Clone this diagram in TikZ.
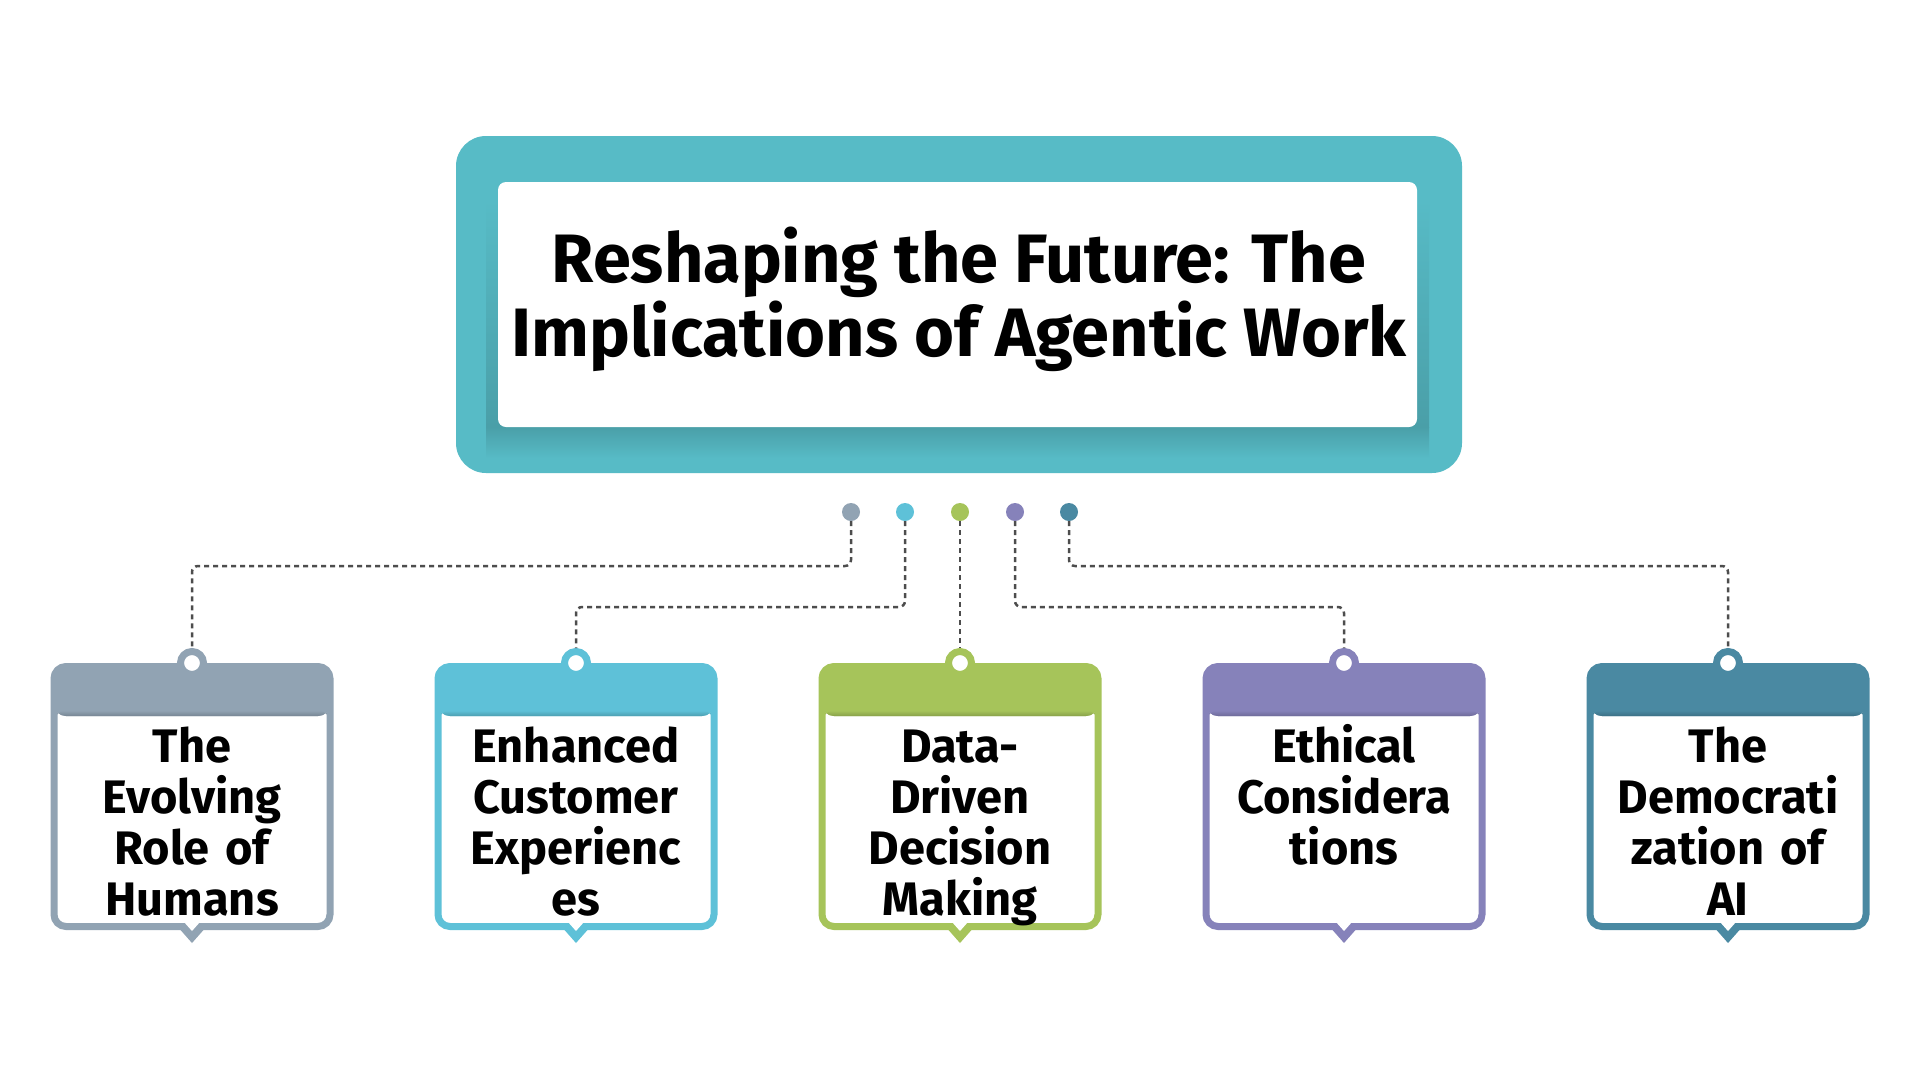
\documentclass[tikz,border=0pt]{standalone}
\usepackage{fontspec}
\setmainfont{Fira Sans}
\usepackage{tikz}
\definecolor{tealframe}{HTML}{57BBC6}
\definecolor{tealshade}{HTML}{4A9FA8}
\definecolor{linkgrey}{HTML}{4D4D4D}
\definecolor{cslate}{HTML}{91A3B3}
\definecolor{csky}{HTML}{5EC1D8}
\definecolor{cgreen}{HTML}{A6C45A}
\definecolor{cviolet}{HTML}{8682BA}
\definecolor{csteel}{HTML}{4A89A2}
\tikzset{
    titleframe/.style={fill=tealframe,rounded corners=30pt,minimum width=1006pt,minimum height=337pt,inner sep=0pt},
    headline/.style={fill=white,rounded corners=8pt,minimum width=919pt,minimum height=245pt,inner sep=0pt},
    titletext/.style={align=center,inner sep=0pt,font=\bfseries\fontsize{68.5}{74}\selectfont},
    dot/.style={circle,fill=#1,minimum size=18pt,inner sep=0pt},
    topic/.style={draw=#1,line width=7pt,fill=white,rounded corners=12pt,minimum width=276pt,minimum height=260pt,inner sep=0pt,
        path picture={\fill[#1] (path picture bounding box.north west) rectangle ([yshift=-49.5pt]path picture bounding box.north east);
            \shade[top color=#1,bottom color=#1!82!black] ([yshift=-44pt]path picture bounding box.north west) rectangle ([yshift=-49.5pt]path picture bounding box.north east);}},
    pinring/.style={circle,draw=#1,line width=7pt,fill=white,minimum size=23pt,inner sep=0pt},
    topictext/.style={anchor=base,text width=276pt,align=center,inner sep=0pt,font=\bfseries\fontsize{47}{51}\selectfont},
    link/.style={draw=linkgrey,line width=2.5pt,dash pattern=on 5pt off 4pt,rounded corners=6pt}
}

\begin{document}
\begin{tikzpicture}[x=1pt,y=-1pt]
    \useasboundingbox[fill=white] (0,0) rectangle (1920,1080);
    \node[titleframe] (frame) at (959,304.5) {};
    \shade[top color=tealframe,bottom color=tealshade] (486,200) rectangle (1429,427);
    \shade[top color=tealshade,bottom color=tealframe] (486,427) rectangle (1429,458);
    \node[headline] (inner) at (957.5,304.5) {};
    \node[titletext] (title) at (959,299) {Reshaping the Future: The\\Implications of Agentic Work};

    \node[dot=cslate] (d1) at (851,512) {};
    \node[dot=csky] (d2) at (905,512) {};
    \node[dot=cgreen] (d3) at (960,512) {};
    \node[dot=cviolet] (d4) at (1015,512) {};
    \node[dot=csteel] (d5) at (1069,512) {};
    \coordinate (upper) at (0,566);
    \coordinate (lower) at (0,607);

    \node[topic=cslate] (b1) at (192,796.5) {};
    \node[topic=csky] (b2) at (576,796.5) {};
    \node[topic=cgreen] (b3) at (960,796.5) {};
    \node[topic=cviolet] (b4) at (1344,796.5) {};
    \node[topic=csteel] (b5) at (1728,796.5) {};

    \fill[cslate] ([xshift=-15pt,yshift=4pt]b1.south) -- ([yshift=-13pt]b1.south) -- ([xshift=15pt,yshift=4pt]b1.south) -- cycle;
    \fill[csky] ([xshift=-15pt,yshift=4pt]b2.south) -- ([yshift=-13pt]b2.south) -- ([xshift=15pt,yshift=4pt]b2.south) -- cycle;
    \fill[cgreen] ([xshift=-15pt,yshift=4pt]b3.south) -- ([yshift=-13pt]b3.south) -- ([xshift=15pt,yshift=4pt]b3.south) -- cycle;
    \fill[cviolet] ([xshift=-15pt,yshift=4pt]b4.south) -- ([yshift=-13pt]b4.south) -- ([xshift=15pt,yshift=4pt]b4.south) -- cycle;
    \fill[csteel] ([xshift=-15pt,yshift=4pt]b5.south) -- ([yshift=-13pt]b5.south) -- ([xshift=15pt,yshift=4pt]b5.south) -- cycle;
    \fill[white] ([xshift=-8pt,yshift=8pt]b1.south) -- ([yshift=-1pt]b1.south) -- ([xshift=8pt,yshift=8pt]b1.south) -- cycle;
    \fill[white] ([xshift=-8pt,yshift=8pt]b2.south) -- ([yshift=-1pt]b2.south) -- ([xshift=8pt,yshift=8pt]b2.south) -- cycle;
    \fill[white] ([xshift=-8pt,yshift=8pt]b3.south) -- ([yshift=-1pt]b3.south) -- ([xshift=8pt,yshift=8pt]b3.south) -- cycle;
    \fill[white] ([xshift=-8pt,yshift=8pt]b4.south) -- ([yshift=-1pt]b4.south) -- ([xshift=8pt,yshift=8pt]b4.south) -- cycle;
    \fill[white] ([xshift=-8pt,yshift=8pt]b5.south) -- ([yshift=-1pt]b5.south) -- ([xshift=8pt,yshift=8pt]b5.south) -- cycle;

    \node[pinring=cslate] (p1) at (b1.north) {};
    \node[pinring=csky] (p2) at (b2.north) {};
    \node[pinring=cgreen] (p3) at (b3.north) {};
    \node[pinring=cviolet] (p4) at (b4.north) {};
    \node[pinring=csteel] (p5) at (b5.north) {};

    \node[topictext] (t1) at (192,762) {The\\Evolving\\Role of\\Humans};
    \node[topictext] (t2) at (576,762) {Enhanced\\Customer\\Experienc\\es};
    \node[topictext] (t3) at (960,762) {Data-\\Driven\\Decision\\Making};
    \node[topictext] (t4) at (1344,762) {Ethical\\Considera\\tions};
    \node[topictext] (t5) at (1728,762) {The\\Democrati\\zation of\\AI};

    \draw[link] (d1) -- (d1 |- upper) -| (p1);
    \draw[link] (d2) -- (d2 |- lower) -| (p2);
    \draw[link] (d3) -- (p3);
    \draw[link] (d4) -- (d4 |- lower) -| (p4);
    \draw[link] (d5) -- (d5 |- upper) -| (p5);
\end{tikzpicture}
\end{document}
